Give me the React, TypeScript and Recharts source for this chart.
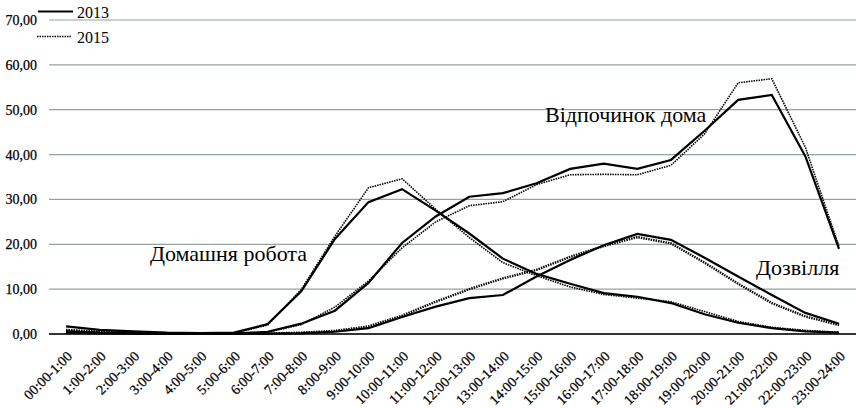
import { LineChart, Line, XAxis, YAxis, CartesianGrid } from 'recharts'

const hours = [
  '00:00-1:00', '1:00-2:00', '2:00-3:00', '3:00-4:00', '4:00-5:00', '5:00-6:00',
  '6:00-7:00', '7:00-8:00', '8:00-9:00', '9:00-10:00', '10:00-11:00', '11:00-12:00',
  '12:00-13:00', '13:00-14:00', '14:00-15:00', '15:00-16:00', '16:00-17:00', '17:00-18:00',
  '18:00-19:00', '19:00-20:00', '20:00-21:00', '21:00-22:00', '22:00-23:00', '23:00-24:00',
]

// Домашня робота
const work2013 = [1.7, 0.9, 0.6, 0.3, 0.2, 0.3, 2.2, 9.5, 21.2, 29.4, 32.3, 27.5, 22.4, 16.8, 13.4, 11.2, 9.1, 8.3, 6.9, 4.4, 2.5, 1.3, 0.6, 0.3]
const work2015 = [1.0, 0.6, 0.4, 0.2, 0.1, 0.2, 2.0, 9.9, 21.8, 32.6, 34.6, 27.8, 21.5, 15.9, 13.0, 10.5, 8.8, 8.0, 7.2, 5.0, 2.8, 1.5, 0.8, 0.4]
// Відпочинок дома
const rest2013 = [0.6, 0.3, 0.2, 0.1, 0.1, 0.1, 0.5, 2.3, 5.2, 11.4, 20.3, 26.2, 30.6, 31.4, 33.6, 36.8, 38.0, 36.8, 38.8, 45.3, 52.2, 53.3, 39.6, 19.0]
const rest2015 = [0.8, 0.4, 0.2, 0.1, 0.1, 0.1, 0.4, 2.1, 6.0, 11.8, 19.2, 25.0, 28.6, 29.5, 33.3, 35.5, 35.6, 35.5, 37.6, 44.6, 56.0, 56.9, 41.6, 19.5]
// Дозвілля
const leisure2013 = [0.3, 0.2, 0.1, 0.05, 0.05, 0.05, 0.1, 0.2, 0.5, 1.3, 3.8, 6.1, 8.0, 8.7, 12.8, 16.5, 19.8, 22.3, 21.0, 17.0, 12.8, 8.7, 4.7, 2.3]
const leisure2015 = [0.3, 0.2, 0.1, 0.05, 0.05, 0.05, 0.1, 0.3, 0.7, 1.7, 4.1, 7.2, 10.0, 12.4, 14.3, 17.2, 19.6, 21.6, 20.2, 15.9, 11.2, 6.9, 3.9, 2.0]

const yTicks = [0, 10, 20, 30, 40, 50, 60, 70]

const data = hours.map((h, i) => ({
  h,
  work2013: work2013[i],
  work2015: work2015[i],
  rest2013: rest2013[i],
  rest2015: rest2015[i],
  leisure2013: leisure2013[i],
  leisure2015: leisure2015[i],
}))

const FONT = "'Liberation Serif'"

const XTick = ({ x, y, payload }: { x?: number; y?: number; payload?: { value: string } }) => {
  const px = (x ?? 0) + 7
  const py = (y ?? 0) + 21
  return (
    <text
      x={px}
      y={py}
      transform={`rotate(-45 ${px} ${py})`}
      textAnchor="end"
      style={{ fontFamily: FONT, fontSize: 14 }}
      fill="#000"
      stroke="#000"
      strokeWidth={0.25}
    >
      {payload?.value}
    </text>
  )
}

const YTick = ({ y, payload }: { x?: number; y?: number; payload?: { value: number } }) => (
  <text
    x={37}
    y={(y ?? 0) + 5}
    textAnchor="end"
    style={{ fontFamily: FONT, fontSize: 14 }}
    fill="#000"
    stroke="#000"
    strokeWidth={0.25}
  >
    {payload?.value.toFixed(2).replace('.', ',')}
  </text>
)

const solid = { stroke: '#000', strokeWidth: 2.2, dot: false, isAnimationActive: false } as const
const dotted = { stroke: '#000', strokeWidth: 1.6, strokeDasharray: '1.5 1', dot: false, isAnimationActive: false } as const

export default function App() {
  return (
    <div style={{ position: 'absolute', left: 0, top: 0, width: 856, height: 408, background: '#fff', fontFamily: FONT }}>
      <LineChart width={856} height={408} data={data} margin={{ top: 20, right: 0, left: 0, bottom: 0 }}>
        <CartesianGrid stroke="#94a2a2" strokeWidth={1.2} vertical={false} />
        <XAxis
          dataKey="h"
          interval={0}
          height={74}
          tickSize={0}
          tickLine={false}
          padding={{ left: 17, right: 17 }}
          axisLine={{ stroke: '#000', strokeWidth: 1.5 }}
          tick={<XTick />}
        />
        <YAxis
          domain={[0, 70]}
          ticks={yTicks}
          width={49}
          axisLine={false}
          tickLine={false}
          tick={<YTick />}
        />
        <Line dataKey="work2013" {...solid} />
        <Line dataKey="work2015" {...dotted} />
        <Line dataKey="rest2013" {...solid} />
        <Line dataKey="rest2015" {...dotted} />
        <Line dataKey="leisure2013" {...solid} />
        <Line dataKey="leisure2015" {...dotted} strokeWidth={2.4} />
      </LineChart>
      <svg
        width={856}
        height={408}
        style={{ position: 'absolute', left: 0, top: 0, pointerEvents: 'none', fontFamily: FONT }}
      >
        <line x1={38} y1={11.5} x2={73} y2={11.5} stroke="#000" strokeWidth={2.2} />
        <text x={77} y={18} fontSize={16}>2013</text>
        <line x1={37} y1={36.5} x2={72} y2={36.5} stroke="#000" strokeWidth={1.4} strokeDasharray="1.5 1" />
        <text x={77} y={43} fontSize={16}>2015</text>
        <text x={150} y={261} fontSize={22}>Домашня робота</text>
        <text x={545} y={122} fontSize={22}>Відпочинок дома</text>
        <text x={756} y={275} fontSize={22}>Дозвілля</text>
      </svg>
    </div>
  )
}
